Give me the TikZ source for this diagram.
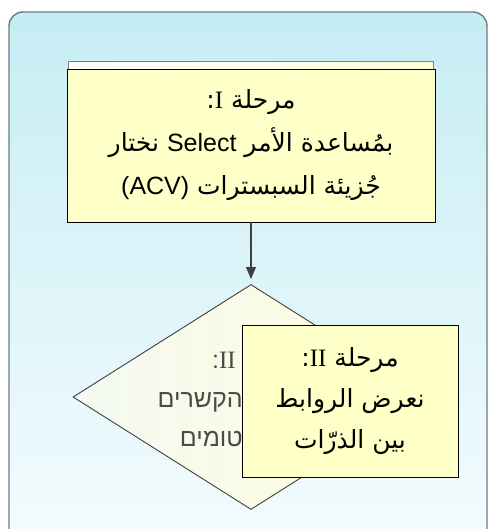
\documentclass[tikz,border=0pt]{standalone}
\usepackage{fontspec}
\setmainfont{Liberation Sans}
\newfontfamily\arabicfont[Script=Arabic]{DejaVu Sans}
\newfontfamily\hebfont[Script=Hebrew]{Liberation Sans}
\newfontfamily\romfont{Liberation Serif}
\TeXXeTstate=1
\usetikzlibrary{positioning,arrows.meta,shapes.geometric}
\definecolor{paneltop}{HTML}{C6EDF4}
\definecolor{panelbot}{HTML}{F5FCFE}
\definecolor{paneledge}{HTML}{6E7C7E}
\definecolor{stepbg}{HTML}{FFFFC8}
\definecolor{decbg}{HTML}{FFFBDC}
\definecolor{decleft}{HTML}{F4FAF2}
\definecolor{decgrey}{HTML}{4A4A4A}
\definecolor{edgegrey}{HTML}{404040}
\newcommand{\artext}[1]{{\arabicfont\beginR #1\endR}}
\newcommand{\hetext}[1]{{\hebfont\beginR #1\endR}}
\tikzset{
  panel/.style={draw=paneledge, line width=1.4pt, top color=paneltop, bottom color=panelbot},
  backbox/.style={draw=gray, line width=0.8pt, left color=white, right color=stepbg!70, inner sep=0pt},
  stepbox/.style={
    draw=black, fill=stepbg, line width=0.9pt, align=center, inner sep=0pt,
    font=\fontsize{25}{43}\selectfont,
  },
  dec/.style={diamond, draw=edgegrey, line width=0.9pt, left color=decleft, right color=decbg,
    minimum width=356pt, minimum height=225pt, inner sep=0pt},
  dectxt/.style={align=right, text=decgrey, font=\fontsize{25}{39}\selectfont, inner sep=0pt},
  flow/.style={-{Triangle[length=12pt,width=10pt]}, draw=edgegrey, line width=1.1pt, shorten >=5pt},
}
\begin{document}
\begin{tikzpicture}[x=1pt,y=-1pt]
\useasboundingbox (0,0) rectangle (489,529);

% outer panel
\begin{scope}
\clip (0,0) rectangle (489,529);
\path[panel] (9,560) [rounded corners=14pt] -- (9,12) -- (487,12) -- (487,560);
\end{scope}

% step one
\node[backbox, anchor=north west, minimum width=365pt, minimum height=30pt] (back) at (68,61) {};
\node[stepbox, minimum width=368pt, minimum height=153pt] (step1) at (251,145.5)
  {\artext{مرحلة \beginL{\romfont I}\endL:}\\
   \artext{بمُساعدة الأمر \beginL{\rmfamily Select}\endL{} نختار}\\
   \artext{جُزيئة السبسترات \beginL{\rmfamily (ACV)}\endL}};

% step two (diamond, mostly covered)
\node[dec] (dec) at (251,397) {};
\node[dectxt, anchor=east] (dectxt) at (243,399)
  {\hetext{\hspace{7pt}\beginL{\romfont II}\endL:}\\
   \hetext{הקשרים}\\
   \hetext{טומים}};

\draw[flow] (step1) -- (dec);

% overlay box
\node[stepbox, minimum width=216pt, minimum height=152pt, font=\fontsize{25}{41}\selectfont] (step2) at (350,401)
  {\artext{مرحلة \beginL{\romfont II}\endL:}\\
   \artext{نعرض الروابط}\\
   \artext{بين الذرّات}};

\end{tikzpicture}
\end{document}
